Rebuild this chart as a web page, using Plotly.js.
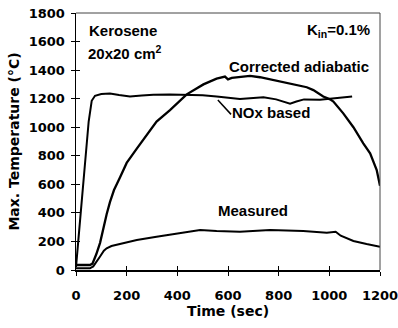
<!DOCTYPE html>
<html>
<head>
<meta charset="utf-8">
<script src="https://cdn.plot.ly/plotly-3.0.1.min.js"></script>
<style>html,body{margin:0;padding:0;background:#fff;}#chart{width:398px;height:328px;}</style>
</head>
<body>
<div id="chart"></div>
<script>
// NOx based temperature (sec, °C)
const noxTime = [0, 20, 36, 50, 62, 75, 100, 134, 170, 213, 260, 305, 370, 437, 500, 555, 600, 647, 700, 740, 790, 818, 845, 870, 900, 963, 1003, 1050, 1090];
const noxTemp = [20, 420, 750, 1040, 1185, 1220, 1232, 1236, 1225, 1215, 1222, 1228, 1230, 1227, 1224, 1215, 1205, 1198, 1205, 1210, 1195, 1178, 1165, 1180, 1195, 1192, 1200, 1208, 1215];

// Corrected adiabatic temperature
const adiaTime = [0, 55, 65, 80, 95, 108, 121, 134, 150, 174, 187, 200, 240, 280, 318, 371, 437, 503, 555, 588, 600, 615, 647, 687, 726, 779, 805, 850, 884, 911, 937, 976, 1003, 1016, 1055, 1095, 1134, 1161, 1187, 1200];
const adiaTemp = [35, 35, 45, 110, 190, 300, 390, 475, 560, 650, 700, 750, 850, 950, 1040, 1120, 1230, 1300, 1340, 1355, 1335, 1345, 1350, 1360, 1350, 1330, 1320, 1305, 1290, 1280, 1260, 1215, 1195, 1180, 1097, 1000, 887, 817, 700, 590];

// Measured temperature
const measTime = [0, 55, 68, 80, 95, 110, 121, 140, 174, 240, 318, 397, 490, 555, 647, 766, 897, 990, 1010, 1025, 1045, 1070, 1095, 1147, 1200];
const measTemp = [12, 12, 25, 60, 95, 135, 152, 168, 182, 210, 233, 257, 280, 273, 268, 280, 273, 261, 263, 268, 240, 220, 203, 182, 163];

const xTicks = [0, 200, 400, 600, 800, 1000, 1200];
const yTicks = [0, 200, 400, 600, 800, 1000, 1200, 1400, 1600, 1800];

const lineStyle = {color: '#000', width: 2};
const traces = [
  {x: noxTime, y: noxTemp, mode: 'lines', line: lineStyle, hoverinfo: 'skip'},
  {x: adiaTime, y: adiaTemp, mode: 'lines', line: {color: '#000', width: 2.3}, hoverinfo: 'skip'},
  {x: measTime, y: measTemp, mode: 'lines', line: lineStyle, hoverinfo: 'skip'},
  {x: [], y: [], xaxis: 'x2', yaxis: 'y2', hoverinfo: 'skip'}
];

const tickFont = {family: 'DejaVu Sans', size: 13, color: '#000', weight: 700};
const annFont = {family: 'Liberation Sans', size: 15, color: '#000', weight: 700};

const layout = {
  width: 398, height: 328,
  margin: {l: 76, r: 18, t: 13, b: 58},
  paper_bgcolor: '#fff', plot_bgcolor: '#fff',
  showlegend: false,
  xaxis: {
    range: [0, 1200], tickvals: xTicks, ticktext: xTicks.map(String),
    showgrid: false, zeroline: false, showline: true, linecolor: '#000', linewidth: 1.5,
    ticks: 'outside', ticklen: 4, tickwidth: 1, tickcolor: '#000',
    tickfont: tickFont, ticklabelstandoff: 9, ticklabeloverflow: 'allow',
    title: {text: 'Time (sec)', font: {family: 'DejaVu Sans', size: 14, color: '#000', weight: 700}, standoff: 2}
  },
  yaxis: {
    range: [0, 1800], tickvals: yTicks, ticktext: yTicks.map(String),
    showgrid: false, zeroline: false, showline: true, linecolor: '#000', linewidth: 1.5,
    ticks: 'outside', ticklen: 4, tickwidth: 1, tickcolor: '#000',
    tickfont: tickFont, ticklabelstandoff: 3, ticklabeloverflow: 'allow',
    title: {text: 'Max. Temperature (°C)', font: {family: 'DejaVu Sans', size: 14, color: '#000', weight: 700}, standoff: 6}
  },
  xaxis2: {range: [0, 1200], overlaying: 'x', tickvals: xTicks, showticklabels: false, ticks: 'inside', ticklen: 4, tickcolor: '#000', showgrid: false, zeroline: false, showline: false},
  yaxis2: {range: [0, 1800], overlaying: 'y', tickvals: yTicks, showticklabels: false, ticks: 'inside', ticklen: 4, tickcolor: '#000', showgrid: false, zeroline: false, showline: false},
  shapes: [
    {type: 'line', xref: 'paper', yref: 'paper', x0: 0, x1: 1, y0: 1, y1: 1, line: {color: '#444', width: 1}},
    {type: 'line', xref: 'paper', yref: 'paper', x0: 1, x1: 1, y0: 0, y1: 1, line: {color: '#444', width: 1}},
    {type: 'line', xref: 'x', yref: 'y', x0: 560, y0: 1190, x1: 612, y1: 1090, line: {color: '#000', width: 1.5}}
  ],
  annotations: [
    {x: 42, y: 1680, xref: 'x', yref: 'y', text: 'Kerosene', showarrow: false, xanchor: 'left', yanchor: 'middle', font: annFont},
    {x: 40, y: 1525, xref: 'x', yref: 'y', text: '20x20 cm<sup>2</sup>', showarrow: false, xanchor: 'left', yanchor: 'middle', font: annFont},
    {x: 1170, y: 1674, xref: 'x', yref: 'y', text: 'K<sub>in</sub>=0.1%', showarrow: false, xanchor: 'right', yanchor: 'middle', font: annFont},
    {x: 880, y: 1422, xref: 'x', yref: 'y', text: 'Corrected adiabatic', showarrow: false, xanchor: 'center', yanchor: 'middle', font: annFont},
    {x: 608, y: 1100, xref: 'x', yref: 'y', text: 'NOx based', showarrow: false, xanchor: 'left', yanchor: 'middle', font: annFont},
    {x: 699, y: 420, xref: 'x', yref: 'y', text: 'Measured', showarrow: false, xanchor: 'center', yanchor: 'middle', font: annFont}
  ]
};

Plotly.newPlot('chart', traces, layout, {staticPlot: true, displayModeBar: false});
</script>
</body>
</html>
